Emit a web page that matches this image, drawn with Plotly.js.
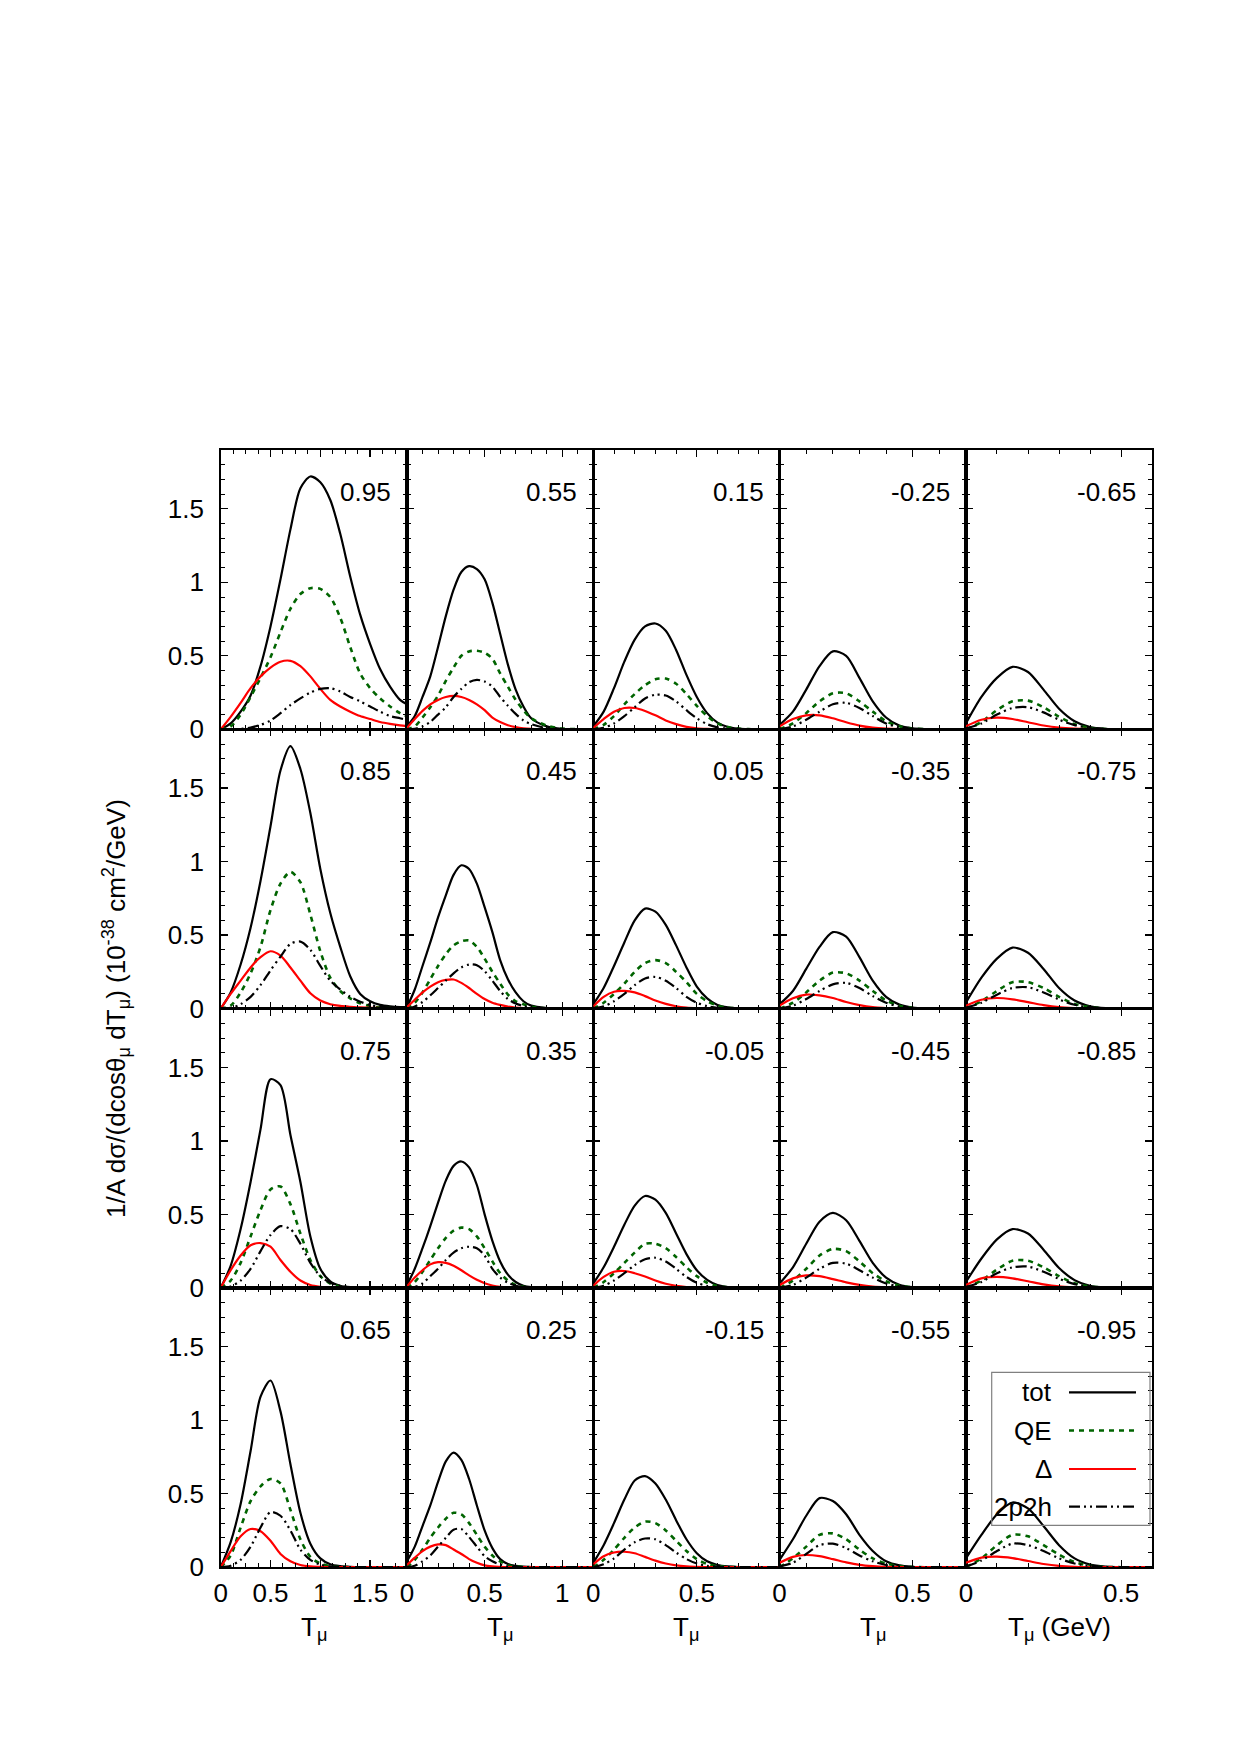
<!DOCTYPE html>
<html>
<head>
<meta charset="utf-8">
<script src="https://cdn.plot.ly/plotly-3.0.1.min.js"></script>
<style>
  html, body { margin: 0; padding: 0; background: #ffffff; }
  #chart { width: 1240px; height: 1755px; }
</style>
</head>
<body>
<div id="chart"></div>
<script>
// ---------------- DATA ----------------
// T_mu grids (GeV), one per column of panels
const xCol1 = [0, 0.1, 0.2, 0.3, 0.4, 0.5, 0.6, 0.7, 0.8, 0.9, 1.0, 1.1, 1.2, 1.3, 1.4, 1.5, 1.6, 1.7, 1.8, 1.87];
const xCol2 = [0, 0.05, 0.1, 0.15, 0.2, 0.25, 0.3, 0.35, 0.4, 0.45, 0.5, 0.55, 0.6, 0.65, 0.7, 0.75, 0.8, 0.9, 1.0, 1.1, 1.2];
const xCol3 = [0, 0.05, 0.1, 0.15, 0.2, 0.25, 0.3, 0.35, 0.4, 0.45, 0.5, 0.55, 0.6, 0.65, 0.7, 0.75, 0.8, 0.85, 0.9];
const xCol4 = [0, 0.05, 0.1, 0.15, 0.2, 0.25, 0.3, 0.35, 0.4, 0.45, 0.5, 0.55, 0.6, 0.65, 0.7];
const xCol5 = [0, 0.05, 0.1, 0.15, 0.2, 0.25, 0.3, 0.35, 0.4, 0.45, 0.5, 0.55, 0.6];

// x-axis upper limits per column
const xMax = [1.87, 1.2, 0.9, 0.7, 0.6];

// cos(theta_mu) labels, column by column, top to bottom
const cosLabels = [
  ["0.95", "0.85", "0.75", "0.65"],
  ["0.55", "0.45", "0.35", "0.25"],
  ["0.15", "0.05", "-0.05", "-0.15"],
  ["-0.25", "-0.35", "-0.45", "-0.55"],
  ["-0.65", "-0.75", "-0.85", "-0.95"]
];

// series names for the key
const seriesNames = ["tot", "QE", "\u0394", "2p2h"];

// ---- column 1 (cos = 0.95, 0.85, 0.75, 0.65) ----
const totCol1 = [
  [0, 0.04, 0.12, 0.23, 0.43, 0.70, 1.02, 1.36, 1.64, 1.72, 1.68, 1.56, 1.33, 1.04, 0.78, 0.58, 0.41, 0.29, 0.20, 0.17],
  [0, 0.11, 0.30, 0.55, 0.87, 1.24, 1.62, 1.785, 1.63, 1.33, 0.95, 0.65, 0.42, 0.22, 0.10, 0.05, 0.025, 0.015, 0.01, 0.01],
  [0, 0.15, 0.40, 0.72, 1.08, 1.42, 1.38, 1.04, 0.72, 0.35, 0.13, 0.045, 0.015, 0.005, 0.002, 0, 0, 0, 0, 0],
  [0, 0.17, 0.43, 0.79, 1.16, 1.27, 1.06, 0.70, 0.37, 0.16, 0.06, 0.02, 0.007, 0.002, 0, 0, 0, 0, 0, 0]
];
const qeCol1 = [
  [0, 0.02, 0.10, 0.22, 0.35, 0.49, 0.66, 0.82, 0.92, 0.96, 0.955, 0.90, 0.76, 0.56, 0.38, 0.28, 0.21, 0.155, 0.11, 0.09],
  [0, 0.02, 0.11, 0.24, 0.42, 0.67, 0.85, 0.93, 0.86, 0.64, 0.39, 0.21, 0.12, 0.07, 0.036, 0.017, 0.008, 0.004, 0.002, 0.001],
  [0, 0.05, 0.17, 0.35, 0.53, 0.67, 0.69, 0.57, 0.37, 0.19, 0.08, 0.03, 0.01, 0.003, 0, 0, 0, 0, 0, 0],
  [0, 0.08, 0.27, 0.45, 0.55, 0.60, 0.57, 0.39, 0.19, 0.07, 0.025, 0.007, 0.002, 0, 0, 0, 0, 0, 0, 0]
];
const delCol1 = [
  [0, 0.085, 0.18, 0.28, 0.36, 0.42, 0.46, 0.466, 0.43, 0.36, 0.275, 0.20, 0.155, 0.12, 0.09, 0.07, 0.05, 0.037, 0.027, 0.022],
  [0, 0.10, 0.19, 0.28, 0.35, 0.39, 0.36, 0.28, 0.19, 0.104, 0.055, 0.03, 0.018, 0.012, 0.008, 0.005, 0.004, 0.003, 0.002, 0.002],
  [0, 0.12, 0.22, 0.29, 0.305, 0.28, 0.19, 0.11, 0.05, 0.02, 0.008, 0.003, 0.001, 0, 0, 0, 0, 0, 0, 0],
  [0, 0.11, 0.21, 0.26, 0.245, 0.18, 0.09, 0.04, 0.015, 0.005, 0.002, 0, 0, 0, 0, 0, 0, 0, 0, 0]
];
const mecCol1 = [
  [0, 0, 0.003, 0.012, 0.03, 0.06, 0.11, 0.165, 0.21, 0.25, 0.275, 0.28, 0.257, 0.22, 0.19, 0.155, 0.12, 0.09, 0.075, 0.064],
  [0, 0.005, 0.03, 0.08, 0.16, 0.26, 0.354, 0.44, 0.456, 0.40, 0.29, 0.19, 0.13, 0.08, 0.047, 0.025, 0.013, 0.007, 0.004, 0.003],
  [0, 0.01, 0.05, 0.13, 0.25, 0.36, 0.42, 0.40, 0.30, 0.17, 0.08, 0.035, 0.013, 0.004, 0.001, 0, 0, 0, 0, 0],
  [0, 0.01, 0.05, 0.14, 0.27, 0.375, 0.35, 0.25, 0.12, 0.05, 0.018, 0.006, 0.002, 0, 0, 0, 0, 0, 0, 0]
];

// ---- column 2 (cos = 0.55, 0.45, 0.35, 0.25) ----
const totCol2 = [
  [0.02, 0.09, 0.22, 0.36, 0.56, 0.77, 0.95, 1.07, 1.11, 1.09, 1.02, 0.86, 0.65, 0.44, 0.27, 0.155, 0.075, 0.02, 0.003, 0, 0],
  [0.01, 0.13, 0.29, 0.45, 0.62, 0.77, 0.91, 0.975, 0.95, 0.85, 0.69, 0.52, 0.33, 0.20, 0.11, 0.05, 0.02, 0.004, 0, 0, 0],
  [0.02, 0.13, 0.27, 0.42, 0.58, 0.73, 0.83, 0.86, 0.82, 0.70, 0.50, 0.32, 0.18, 0.09, 0.04, 0.015, 0.005, 0, 0, 0, 0],
  [0.04, 0.14, 0.28, 0.42, 0.58, 0.72, 0.78, 0.73, 0.60, 0.42, 0.25, 0.13, 0.055, 0.022, 0.009, 0.004, 0.001, 0, 0, 0, 0]
];
const qeCol2 = [
  [0, 0.02, 0.08, 0.15, 0.23, 0.33, 0.42, 0.50, 0.53, 0.534, 0.52, 0.48, 0.38, 0.29, 0.20, 0.13, 0.075, 0.025, 0.005, 0.001, 0],
  [0, 0.04, 0.11, 0.20, 0.29, 0.37, 0.43, 0.458, 0.463, 0.42, 0.34, 0.25, 0.17, 0.095, 0.05, 0.03, 0.012, 0.002, 0, 0, 0],
  [0, 0.04, 0.11, 0.19, 0.27, 0.34, 0.39, 0.41, 0.40, 0.35, 0.27, 0.18, 0.10, 0.05, 0.02, 0.008, 0.003, 0, 0, 0, 0],
  [0, 0.05, 0.12, 0.20, 0.27, 0.33, 0.37, 0.36, 0.30, 0.22, 0.14, 0.08, 0.04, 0.014, 0.005, 0.002, 0, 0, 0, 0, 0]
];
const delCol2 = [
  [0.01, 0.07, 0.125, 0.17, 0.20, 0.22, 0.227, 0.22, 0.20, 0.17, 0.13, 0.08, 0.05, 0.028, 0.015, 0.007, 0.003, 0, 0, 0, 0],
  [0.01, 0.06, 0.11, 0.15, 0.18, 0.195, 0.198, 0.175, 0.14, 0.10, 0.065, 0.04, 0.025, 0.013, 0.007, 0.003, 0.001, 0, 0, 0, 0],
  [0.01, 0.07, 0.12, 0.16, 0.175, 0.17, 0.15, 0.12, 0.085, 0.055, 0.032, 0.016, 0.007, 0.003, 0.001, 0, 0, 0, 0, 0, 0],
  [0.015, 0.065, 0.11, 0.14, 0.155, 0.15, 0.12, 0.09, 0.055, 0.03, 0.012, 0.005, 0.002, 0, 0, 0, 0, 0, 0, 0, 0]
];
const mecCol2 = [
  [0, 0.004, 0.02, 0.05, 0.10, 0.15, 0.22, 0.275, 0.32, 0.336, 0.325, 0.29, 0.22, 0.16, 0.105, 0.06, 0.035, 0.007, 0.001, 0, 0],
  [0, 0.015, 0.045, 0.09, 0.14, 0.19, 0.24, 0.28, 0.30, 0.295, 0.255, 0.19, 0.12, 0.065, 0.035, 0.018, 0.007, 0.001, 0, 0, 0],
  [0, 0.005, 0.03, 0.08, 0.13, 0.19, 0.24, 0.27, 0.28, 0.27, 0.22, 0.13, 0.07, 0.035, 0.015, 0.005, 0.002, 0, 0, 0, 0],
  [0, 0.01, 0.04, 0.08, 0.14, 0.20, 0.255, 0.26, 0.205, 0.14, 0.075, 0.04, 0.018, 0.005, 0.001, 0, 0, 0, 0, 0, 0]
];

// ---- column 3 (cos = 0.15, 0.05, -0.05, -0.15) ----
const totCol3 = [
  [0.02, 0.12, 0.28, 0.46, 0.61, 0.70, 0.72, 0.67, 0.54, 0.37, 0.22, 0.11, 0.045, 0.016, 0.005, 0.001, 0, 0, 0],
  [0.03, 0.14, 0.29, 0.45, 0.60, 0.68, 0.66, 0.57, 0.43, 0.28, 0.15, 0.07, 0.025, 0.008, 0.002, 0, 0, 0, 0],
  [0.03, 0.14, 0.28, 0.43, 0.56, 0.625, 0.60, 0.51, 0.37, 0.23, 0.12, 0.055, 0.02, 0.006, 0.002, 0, 0, 0, 0],
  [0.03, 0.15, 0.30, 0.46, 0.59, 0.62, 0.57, 0.46, 0.32, 0.19, 0.095, 0.04, 0.015, 0.005, 0.001, 0, 0, 0, 0]
];
const qeCol3 = [
  [0, 0.03, 0.09, 0.17, 0.24, 0.30, 0.34, 0.345, 0.31, 0.24, 0.16, 0.09, 0.04, 0.015, 0.005, 0.001, 0, 0, 0],
  [0, 0.04, 0.10, 0.17, 0.25, 0.31, 0.33, 0.31, 0.25, 0.18, 0.10, 0.05, 0.02, 0.006, 0.002, 0, 0, 0, 0],
  [0, 0.04, 0.10, 0.17, 0.24, 0.30, 0.30, 0.27, 0.21, 0.14, 0.08, 0.035, 0.013, 0.004, 0.001, 0, 0, 0, 0],
  [0, 0.05, 0.12, 0.20, 0.27, 0.31, 0.30, 0.25, 0.18, 0.11, 0.055, 0.022, 0.008, 0.002, 0, 0, 0, 0, 0]
];
const delCol3 = [
  [0.01, 0.07, 0.12, 0.145, 0.145, 0.125, 0.095, 0.06, 0.035, 0.017, 0.007, 0.003, 0.001, 0, 0, 0, 0, 0, 0],
  [0.015, 0.08, 0.115, 0.12, 0.11, 0.085, 0.055, 0.032, 0.016, 0.007, 0.003, 0.001, 0, 0, 0, 0, 0, 0, 0],
  [0.015, 0.075, 0.11, 0.115, 0.10, 0.078, 0.05, 0.028, 0.014, 0.006, 0.002, 0.001, 0, 0, 0, 0, 0, 0, 0],
  [0.02, 0.075, 0.10, 0.105, 0.095, 0.07, 0.045, 0.025, 0.012, 0.005, 0.002, 0, 0, 0, 0, 0, 0, 0, 0]
];
const mecCol3 = [
  [0, 0.01, 0.04, 0.09, 0.15, 0.21, 0.235, 0.23, 0.19, 0.13, 0.075, 0.035, 0.013, 0.004, 0.001, 0, 0, 0, 0],
  [0, 0.015, 0.05, 0.10, 0.16, 0.205, 0.215, 0.19, 0.14, 0.08, 0.04, 0.016, 0.005, 0.001, 0, 0, 0, 0, 0],
  [0, 0.015, 0.05, 0.10, 0.155, 0.195, 0.205, 0.18, 0.13, 0.075, 0.035, 0.013, 0.004, 0.001, 0, 0, 0, 0, 0],
  [0, 0.02, 0.06, 0.12, 0.17, 0.195, 0.19, 0.15, 0.10, 0.055, 0.025, 0.009, 0.003, 0, 0, 0, 0, 0, 0]
];

// ---- column 4 (cos = -0.25, -0.35, -0.45, -0.55) ----
const totCol4 = [
  [0.03, 0.12, 0.27, 0.43, 0.53, 0.50, 0.35, 0.19, 0.08, 0.025, 0.006, 0.001, 0, 0, 0],
  [0.03, 0.12, 0.27, 0.42, 0.52, 0.49, 0.35, 0.19, 0.08, 0.027, 0.007, 0.001, 0, 0, 0],
  [0.03, 0.14, 0.30, 0.45, 0.51, 0.46, 0.32, 0.17, 0.07, 0.022, 0.005, 0.001, 0, 0, 0],
  [0.05, 0.19, 0.35, 0.47, 0.45, 0.36, 0.22, 0.11, 0.04, 0.012, 0.003, 0, 0, 0, 0]
];
const qeCol4 = [
  [0, 0.04, 0.11, 0.19, 0.245, 0.245, 0.19, 0.12, 0.055, 0.02, 0.005, 0.001, 0, 0, 0],
  [0, 0.04, 0.11, 0.19, 0.245, 0.24, 0.19, 0.12, 0.055, 0.02, 0.005, 0.001, 0, 0, 0],
  [0, 0.05, 0.13, 0.22, 0.265, 0.25, 0.18, 0.10, 0.045, 0.015, 0.004, 0.001, 0, 0, 0],
  [0, 0.06, 0.14, 0.22, 0.23, 0.19, 0.12, 0.06, 0.025, 0.008, 0.002, 0, 0, 0, 0]
];
const delCol4 = [
  [0.02, 0.07, 0.095, 0.095, 0.075, 0.048, 0.025, 0.011, 0.004, 0.001, 0, 0, 0, 0, 0],
  [0.02, 0.07, 0.095, 0.09, 0.072, 0.045, 0.024, 0.01, 0.004, 0.001, 0, 0, 0, 0, 0],
  [0.02, 0.065, 0.085, 0.08, 0.06, 0.038, 0.02, 0.008, 0.003, 0.001, 0, 0, 0, 0, 0],
  [0.03, 0.07, 0.083, 0.075, 0.055, 0.033, 0.016, 0.007, 0.002, 0, 0, 0, 0, 0, 0]
];
const mecCol4 = [
  [0, 0.02, 0.065, 0.12, 0.17, 0.18, 0.145, 0.09, 0.04, 0.013, 0.003, 0, 0, 0, 0],
  [0, 0.02, 0.065, 0.12, 0.165, 0.175, 0.14, 0.085, 0.04, 0.013, 0.003, 0, 0, 0, 0],
  [0, 0.02, 0.07, 0.13, 0.17, 0.165, 0.12, 0.07, 0.03, 0.01, 0.002, 0, 0, 0, 0],
  [0.005, 0.03, 0.09, 0.15, 0.16, 0.13, 0.08, 0.04, 0.015, 0.004, 0.001, 0, 0, 0, 0]
];

// ---- column 5 (cos = -0.65, -0.75, -0.85, -0.95) ----
const totCol5 = [
  [0.04, 0.22, 0.35, 0.425, 0.39, 0.27, 0.14, 0.055, 0.015, 0.003, 0, 0, 0],
  [0.04, 0.21, 0.34, 0.415, 0.38, 0.27, 0.14, 0.055, 0.016, 0.003, 0, 0, 0],
  [0.04, 0.20, 0.33, 0.40, 0.37, 0.26, 0.135, 0.053, 0.015, 0.003, 0, 0, 0],
  [0.06, 0.22, 0.36, 0.44, 0.40, 0.28, 0.15, 0.06, 0.018, 0.004, 0, 0, 0]
];
const qeCol5 = [
  [0, 0.05, 0.13, 0.19, 0.195, 0.15, 0.085, 0.035, 0.01, 0.002, 0, 0, 0],
  [0, 0.05, 0.12, 0.18, 0.18, 0.14, 0.08, 0.032, 0.01, 0.002, 0, 0, 0],
  [0, 0.05, 0.125, 0.185, 0.185, 0.14, 0.08, 0.032, 0.01, 0.002, 0, 0, 0],
  [0, 0.06, 0.15, 0.22, 0.21, 0.15, 0.085, 0.035, 0.01, 0.002, 0, 0, 0]
];
const delCol5 = [
  [0.02, 0.065, 0.079, 0.07, 0.048, 0.026, 0.011, 0.004, 0.001, 0, 0, 0, 0],
  [0.02, 0.06, 0.072, 0.063, 0.044, 0.024, 0.01, 0.004, 0.001, 0, 0, 0, 0],
  [0.02, 0.065, 0.075, 0.065, 0.045, 0.024, 0.01, 0.004, 0.001, 0, 0, 0, 0],
  [0.03, 0.065, 0.072, 0.062, 0.042, 0.022, 0.009, 0.003, 0.001, 0, 0, 0, 0]
];
const mecCol5 = [
  [0.005, 0.04, 0.10, 0.145, 0.15, 0.115, 0.065, 0.028, 0.009, 0.002, 0, 0, 0],
  [0.005, 0.04, 0.095, 0.14, 0.145, 0.11, 0.062, 0.026, 0.008, 0.002, 0, 0, 0],
  [0.005, 0.04, 0.10, 0.14, 0.145, 0.11, 0.062, 0.026, 0.008, 0.002, 0, 0, 0],
  [0.005, 0.045, 0.11, 0.16, 0.15, 0.11, 0.06, 0.025, 0.008, 0.002, 0, 0, 0]
];

// ---------------- BUILD ----------------
const W = 1240, H = 1755;
const plotL = 220.7, colW = 186.3, plotT = 450, rowH = 279.3;
const FONT = "Liberation Sans, Arial, Helvetica, sans-serif";
const FS = 26;

const xGrids = [xCol1, xCol2, xCol3, xCol4, xCol5];
const seriesCols = [
  [totCol1, totCol2, totCol3, totCol4, totCol5],
  [qeCol1, qeCol2, qeCol3, qeCol4, qeCol5],
  [delCol1, delCol2, delCol3, delCol4, delCol5],
  [mecCol1, mecCol2, mecCol3, mecCol4, mecCol5]
];
const seriesStyle = [
  {color: "#000000", width: 2.2, dash: "solid"},
  {color: "#006400", width: 2.6, dash: "5px,5px"},
  {color: "#ff0000", width: 2.2, dash: "solid"},
  {color: "#000000", width: 2.2, dash: "11px,4px,2px,4px,2px,4px"}
];

const px2x = p => p / W;
const px2y = p => 1 - p / H;

const traces = [];
const layout = {
  width: W, height: H,
  margin: {l: 0, r: 0, t: 0, b: 0},
  paper_bgcolor: "#ffffff",
  plot_bgcolor: "rgba(0,0,0,0)",
  font: {family: FONT, size: FS, color: "#000000"},
  showlegend: false,
  annotations: [],
  shapes: []
};

for (let c = 0; c < 5; c++) {
  for (let r = 0; r < 4; r++) {
    const idx = c * 4 + r + 1;
    const xn = idx === 1 ? "x" : "x" + idx;
    const yn = idx === 1 ? "y" : "y" + idx;
    const xk = idx === 1 ? "xaxis" : "xaxis" + idx;
    const yk = idx === 1 ? "yaxis" : "yaxis" + idx;
    const x0 = plotL + c * colW, x1 = x0 + colW;
    const yTop = plotT + r * rowH, yBot = yTop + rowH;

    layout[xk] = {
      domain: [px2x(x0), px2x(x1)],
      range: [0, xMax[c]],
      anchor: yn,
      tick0: 0, dtick: 0.5,
      ticks: "inside", ticklen: 7, tickwidth: 1.3, tickcolor: "#000",
      minor: {dtick: c === 0 ? 0.125 : 0.1, ticks: "inside", ticklen: 4, tickwidth: 1, tickcolor: "#000"},
      showline: true, linecolor: "#000", linewidth: 1.6, mirror: "allticks",
      showgrid: false, zeroline: false,
      showticklabels: r === 3,
      tickfont: {family: FONT, size: FS, color: "#000"},
      ticklabelstandoff: 2,
      fixedrange: true
    };
    layout[yk] = {
      domain: [px2y(yBot), px2y(yTop)],
      range: [0, 1.9],
      anchor: xn,
      tick0: 0, dtick: 0.5,
      ticks: "inside", ticklen: 7, tickwidth: 1.3, tickcolor: "#000",
      minor: {dtick: 0.1, ticks: "inside", ticklen: 4, tickwidth: 1, tickcolor: "#000"},
      showline: true, linecolor: "#000", linewidth: 1.6, mirror: "allticks",
      showgrid: false, zeroline: false,
      showticklabels: c === 0,
      tickfont: {family: FONT, size: FS, color: "#000"},
      ticklabelstandoff: 10,
      fixedrange: true
    };

    for (let s = 0; s < 4; s++) {
      traces.push({
        type: "scatter", mode: "lines",
        x: xGrids[c], y: seriesCols[s][c][r],
        xaxis: xn, yaxis: yn,
        name: seriesNames[s],
        line: {color: seriesStyle[s].color, width: seriesStyle[s].width, dash: seriesStyle[s].dash, shape: "spline", smoothing: 0.8},
        hoverinfo: "skip", showlegend: false
      });
    }

    // cos(theta) label in the panel's upper-right corner
    layout.annotations.push({
      xref: "paper", yref: "paper",
      x: px2x(x1 - 14), y: px2y(yTop + 42),
      xanchor: "right", yanchor: "middle",
      text: cosLabels[c][r], showarrow: false,
      font: {family: FONT, size: FS, color: "#000"}
    });
  }
  // x-axis title under each column
  layout.annotations.push({
    xref: "paper", yref: "paper",
    x: px2x(plotL + (c + 0.5) * colW), y: px2y(1610),
    xanchor: "center", yanchor: "top",
    text: c === 4 ? "T<sub>\u03bc</sub> (GeV)" : "T<sub>\u03bc</sub>",
    showarrow: false,
    font: {family: FONT, size: FS, color: "#000"}
  });
}

// y-axis title
layout.annotations.push({
  xref: "paper", yref: "paper",
  x: px2x(116), y: px2y(1009),
  xanchor: "center", yanchor: "middle",
  textangle: -90,
  text: "1/A d\u03c3/(dcos\u03b8<sub>\u03bc</sub> dT<sub>\u03bc</sub>) (10<sup>-38</sup> cm<sup>2</sup>/GeV)",
  showarrow: false,
  font: {family: FONT, size: FS, color: "#000"}
});

// key (gnuplot style: label right-aligned, sample on the right)
const keyL = 991.7, keyR = 1150, keyT = 1372.3, keyB = 1525.3;
layout.shapes.push({
  type: "rect", xref: "paper", yref: "paper",
  x0: px2x(keyL), x1: px2x(keyR), y0: px2y(keyB), y1: px2y(keyT),
  line: {color: "#808080", width: 1.2}, fillcolor: "rgba(0,0,0,0)"
});
const keyRows = [1392.3, 1430.5, 1469, 1506.7];
for (let s = 0; s < 4; s++) {
  layout.annotations.push({
    xref: "paper", yref: "paper",
    x: px2x(1054), y: px2y(keyRows[s]),
    xanchor: "right", yanchor: "middle",
    text: seriesNames[s], showarrow: false,
    font: {family: FONT, size: FS, color: "#000"}
  });
  layout.shapes.push({
    type: "line", xref: "paper", yref: "paper",
    x0: px2x(1069), x1: px2x(1136), y0: px2y(keyRows[s]), y1: px2y(keyRows[s]),
    line: {color: seriesStyle[s].color, width: seriesStyle[s].width, dash: seriesStyle[s].dash}
  });
}

Plotly.newPlot("chart", traces, layout, {staticPlot: true, displayModeBar: false});
</script>
</body>
</html>
